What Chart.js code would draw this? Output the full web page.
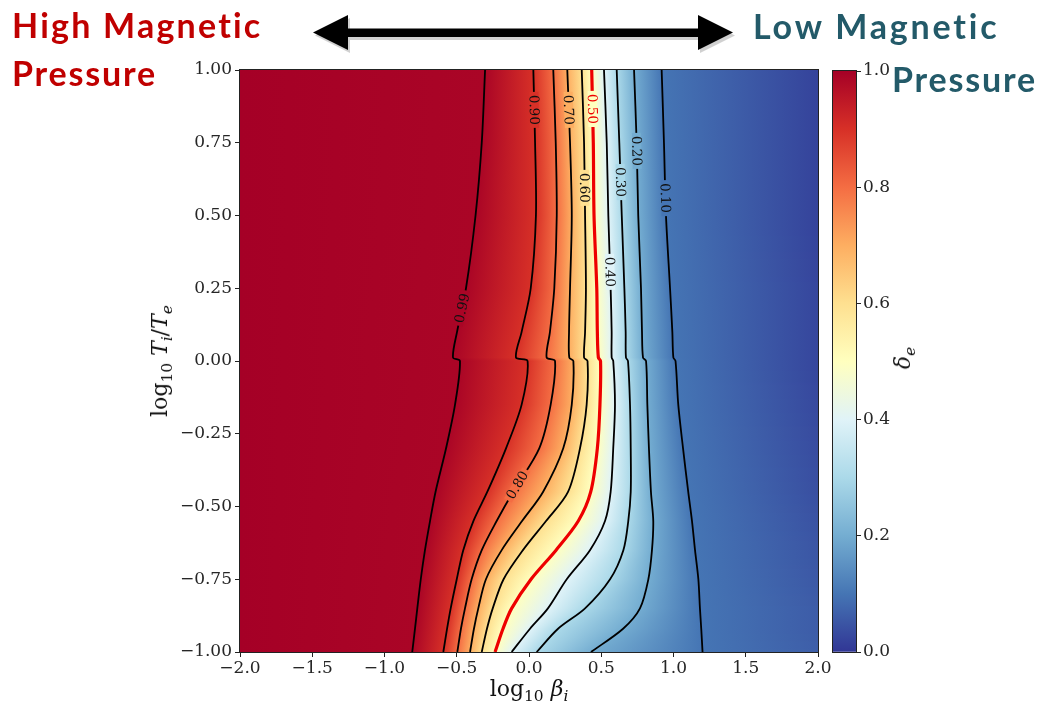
<!DOCTYPE html>
<html>
<head>
<meta charset="utf-8">
<script src="https://cdn.jsdelivr.net/npm/chart.js@4.4.1/dist/chart.umd.min.js"></script>
<style>
html,body{margin:0;padding:0;background:#fff;}
#wrap{position:relative;width:1051px;height:706px;overflow:hidden;background:#fff;}
canvas{position:absolute;top:0;}
#main{left:0;}
#cbar{left:800px;}
.ann{position:absolute;font-family:Lato,'Open Sans',sans-serif;font-weight:700;font-size:34px;line-height:34px;white-space:nowrap;}
.red{color:#c00000;}
.teal{color:#235a69;}
.ttl{position:absolute;font-family:'DejaVu Serif',serif;font-size:22px;line-height:22px;white-space:nowrap;color:#111;transform:translate(-50%,-50%);}
.rot{transform:translate(-50%,-50%) rotate(-90deg);}
.ttl sub{font-size:70%;vertical-align:-0.3em;line-height:0;}
#arrow{position:absolute;left:0;top:0;}
</style>
</head>
<body>
<div id="wrap">
  <canvas id="main" width="1051" height="706"></canvas>
  <canvas id="cbar" width="130" height="706"></canvas>
  <svg id="arrow" width="1051" height="80">
    <polygon points="313,32.5 348,15 348,28.5 698,28.5 698,15 733,32.5 698,50 698,37 348,37 348,50" fill="#777" opacity="0.35" transform="translate(2,3)"/>
    <polygon points="313,32.5 348,15 348,28.5 698,28.5 698,15 733,32.5 698,50 698,37 348,37 348,50" fill="#000"/>
  </svg>
  <div class="ann red fit" data-w="251" style="left:12px;top:8px;">High Magnetic</div>
  <div class="ann red fit" data-w="145" style="left:12px;top:56px;">Pressure</div>
  <div class="ann teal fit" data-w="247" style="left:753px;top:9px;">Low Magnetic</div>
  <div class="ann teal fit" data-w="145" style="left:892px;top:62px;">Pressure</div>
  <div class="ttl" style="left:529px;top:689px;">log<sub>10</sub> <i>β<sub>i</sub></i></div>
  <div class="ttl rot" style="left:160px;top:361px;">log<sub>10</sub> <i>T<sub>i</sub></i>/<i>T<sub>e</sub></i></div>
  <div class="ttl rot" style="left:903px;top:358px;"><i>δ<sub>e</sub></i></div>
</div>
<script>
// ---------------- data ----------------
// y positions (log10 Ti/Te) at which each contour's x position (log10 beta_i) was read
const Y_SAMPLES = [1.0, 0.75, 0.5, 0.25, 0.1, 0.012, 0.0, -0.15, -0.3, -0.45, -0.55, -0.65, -0.75, -0.85, -0.92, -1.0];
const LEVELS = [0.99, 0.90, 0.80, 0.70, 0.60, 0.50, 0.40, 0.30, 0.20, 0.10];
const C099 = [-0.304,-0.327,-0.370,-0.436,-0.498,-0.526,-0.478,-0.512,-0.574,-0.647,-0.685,-0.720,-0.749,-0.773,-0.789,-0.808];
const C090 = [0.030,0.042,0.048,0.012,-0.051,-0.090,-0.010,-0.051,-0.159,-0.289,-0.385,-0.455,-0.500,-0.542,-0.567,-0.593];
const C080 = [0.168,0.185,0.192,0.175,0.145,0.122,0.180,0.150,0.071,-0.111,-0.224,-0.327,-0.397,-0.443,-0.471,-0.496];
const C070 = [0.265,0.284,0.296,0.284,0.277,0.279,0.307,0.296,0.237,0.097,-0.048,-0.189,-0.298,-0.351,-0.381,-0.408];
const C060 = [0.365,0.381,0.388,0.394,0.388,0.381,0.405,0.399,0.353,0.270,0.118,-0.042,-0.176,-0.251,-0.291,-0.327];
const C050 = [0.434,0.445,0.450,0.469,0.473,0.480,0.495,0.491,0.473,0.427,0.341,0.187,0.014,-0.120,-0.180,-0.235];
const C040 = [0.519,0.538,0.549,0.565,0.572,0.572,0.583,0.595,0.583,0.565,0.526,0.422,0.261,0.131,0.007,-0.120];
const C030 = [0.607,0.625,0.642,0.660,0.669,0.671,0.685,0.699,0.704,0.704,0.687,0.653,0.561,0.388,0.201,0.053];
const C020 = [0.727,0.745,0.756,0.775,0.782,0.789,0.810,0.819,0.830,0.844,0.860,0.851,0.826,0.768,0.651,0.429];
const C010 = [0.918,0.934,0.948,0.976,0.992,0.999,1.014,1.033,1.066,1.102,1.128,1.149,1.172,1.183,1.192,1.201];
const CONTOURS = [C099, C090, C080, C070, C060, C050, C040, C030, C020, C010];
// delta_e at the left edge (x=-2) and right edge (x=2) of the map, per Y sample
const LEFT_EDGE_V = 1.0;
const RIGHT_EDGE_V = [0.02,0.02,0.02,0.025,0.025,0.025,0.025,0.03,0.035,0.04,0.045,0.05,0.055,0.06,0.06,0.065];
// inline contour labels
const LABEL_LEVEL = [0.90, 0.70, 0.50, 0.60, 0.20, 0.30, 0.10, 0.40, 0.99, 0.80];
const LABEL_Y     = [0.863, 0.863, 0.866, 0.595, 0.722, 0.615, 0.560, 0.306, 0.182, -0.426];
// axis ticks
const X_TICKS = [-2.0, -1.5, -1.0, -0.5, 0.0, 0.5, 1.0, 1.5, 2.0];
const Y_TICKS = [-1.0, -0.75, -0.5, -0.25, 0.0, 0.25, 0.5, 0.75, 1.0];
const CB_TICKS = [0.0, 0.2, 0.4, 0.6, 0.8, 1.0];
// RdYlBu_r colormap anchors (value 0 -> 1)
const CMAP = ['#313695','#4575b4','#74add1','#abd9e9','#e0f3f8','#ffffbf','#fee090','#fdae61','#f46d43','#d73027','#a50026'];
const RED = '#ee0000';

// ---------------- helpers ----------------
const CM_RGB = CMAP.map(h => [1,3,5].map(i => parseInt(h.substr(i,2),16)));
function cmap(v){
  v = Math.max(0, Math.min(1, v));
  const f = v*10, i = Math.min(9, Math.floor(f)), t = f - i;
  const a = CM_RGB[i], b = CM_RGB[i+1];
  return 'rgb(' + a.map((c,k)=>Math.round(c + (b[k]-c)*t)).join(',') + ')';
}
const fmt = (v,d) => (v < -1e-9 ? '\u2212' : '') + Math.abs(v).toFixed(d);
function interpAt(arr, yv){
  const Y = Y_SAMPLES;
  if (yv >= Y[0]) return arr[0];
  for (let j=0;j<Y.length-1;j++){
    if (yv <= Y[j] && yv >= Y[j+1]){
      const t = (Y[j]-yv)/(Y[j]-Y[j+1]);
      return arr[j] + t*(arr[j+1]-arr[j]);
    }
  }
  return arr[arr.length-1];
}
function fixedTicks(list){
  return function(scale){ scale.ticks = list.map(v => ({value:v})); };
}

// ---------------- plugins ----------------
const heatmap = {
  id:'heatmap',
  beforeDatasetsDraw(chart){
    const {ctx, chartArea:a, scales:{x, y}} = chart;
    const x0 = x.getPixelForValue(-2), x1 = x.getPixelForValue(2);
    ctx.save();
    for (let py = Math.floor(a.top); py < Math.ceil(a.bottom); py++){
      const yv = y.getValueForPixel(py + 0.5);
      const g = ctx.createLinearGradient(x0, 0, x1, 0);
      const stops = [[-2, LEFT_EDGE_V]];
      CONTOURS.forEach((c,i) => stops.push([interpAt(c, yv), LEVELS[i]]));
      stops.push([2, interpAt(RIGHT_EDGE_V, yv)]);
      stops.forEach(([xv, v]) => {
        const off = (x.getPixelForValue(xv) - x0)/(x1 - x0);
        g.addColorStop(Math.max(0, Math.min(1, off)), cmap(v));
      });
      ctx.fillStyle = g;
      ctx.fillRect(a.left, py, a.right - a.left, 1);
    }
    ctx.restore();
  },
  afterDatasetsDraw(chart){
    const {ctx, scales:{x, y}} = chart;
    ctx.save();
    ctx.font = '13.5px "DejaVu Serif"';
    ctx.textAlign = 'center';
    ctx.textBaseline = 'middle';
    LABEL_LEVEL.forEach((lv, i) => {
      const c = CONTOURS[LEVELS.indexOf(lv)];
      const yv = LABEL_Y[i];
      const px = x.getPixelForValue(interpAt(c, yv)), py = y.getPixelForValue(yv);
      const pa = [x.getPixelForValue(interpAt(c, yv+0.03)), y.getPixelForValue(yv+0.03)];
      const pb = [x.getPixelForValue(interpAt(c, yv-0.03)), y.getPixelForValue(yv-0.03)];
      let ang = Math.atan2(pb[1]-pa[1], pb[0]-pa[0]);
      if (ang > Math.PI/2) ang -= Math.PI;
      if (ang <= -Math.PI/2) ang += Math.PI;
      const txt = lv.toFixed(2);
      const w = ctx.measureText(txt).width;
      ctx.save();
      ctx.translate(px, py);
      ctx.rotate(ang);
      ctx.fillStyle = cmap(lv);
      ctx.fillRect(-w/2 - 3, -4.5, w + 6, 9);
      ctx.fillStyle = lv === 0.5 ? RED : '#111';
      ctx.fillText(txt, 0, 1);
      ctx.restore();
    });
    ctx.restore();
  },
  afterDraw(chart){
    const {ctx, chartArea:a} = chart;
    ctx.save();
    ctx.strokeStyle = '#222';
    ctx.lineWidth = 1;
    ctx.strokeRect(a.left - 0.5, a.top - 0.5, a.right - a.left + 1, a.bottom - a.top + 1);
    ctx.restore();
  }
};

// ---------------- main chart ----------------
const tickFont = {family:'DejaVu Serif', size:17};
const datasets = LEVELS.map((lv, i) => ({
  label: lv.toFixed(2),
  data: Y_SAMPLES.map((yv, j) => ({x: CONTOURS[i][j], y: yv})),
  showLine: true,
  borderColor: lv === 0.5 ? RED : '#000',
  borderWidth: lv === 0.5 ? 3.2 : 1.8,
  pointRadius: 0,
  tension: 0.3,
  fill: false
}));

new Chart(document.getElementById('main'), {
  type: 'scatter',
  data: {datasets},
  options: {
    responsive: false,
    animation: false,
    events: [],
    layout: {padding: {left: 140, top: 70, right: 233, bottom: 0}},
    plugins: {legend: {display: false}, tooltip: {enabled: false}},
    scales: {
      x: {
        type: 'linear', min: -2, max: 2,
        afterBuildTicks: fixedTicks(X_TICKS),
        ticks: {callback: v => fmt(v, 1), font: tickFont, color: '#262626', padding: 1, maxRotation: 0, autoSkip: false},
        grid: {drawOnChartArea: false, tickLength: 5, tickColor: '#222', tickWidth: 1},
        border: {display: false},
        afterFit(s){ s.height = 54; }
      },
      y: {
        type: 'linear', min: -1, max: 1,
        afterBuildTicks: fixedTicks(Y_TICKS),
        ticks: {callback: v => fmt(v, 2), font: tickFont, color: '#262626', padding: 3, autoSkip: false},
        grid: {drawOnChartArea: false, tickLength: 5, tickColor: '#222', tickWidth: 1},
        border: {display: false},
        afterFit(s){ s.width = 100; }
      }
    }
  },
  plugins: [heatmap]
});

// ---------------- colorbar ----------------
const cbFrame = {
  id:'cbFrame',
  afterDraw(chart){
    const {ctx, chartArea:a} = chart;
    ctx.save();
    ctx.strokeStyle = '#222';
    ctx.lineWidth = 1;
    ctx.strokeRect(a.left - 0.5, a.top - 0.5, a.right - a.left + 1, a.bottom - a.top + 1);
    ctx.restore();
  }
};
new Chart(document.getElementById('cbar'), {
  type: 'bar',
  data: {
    labels: ['δe'],
    datasets: [{
      data: [1],
      borderWidth: 0,
      barPercentage: 1,
      categoryPercentage: 1,
      backgroundColor(c){
        const ch = c.chart, s = ch.scales.y;
        if (!ch.chartArea || !s) return CMAP[5];
        const g = ch.ctx.createLinearGradient(0, s.getPixelForValue(0), 0, s.getPixelForValue(1));
        CMAP.forEach((col, i) => g.addColorStop(i/10, col));
        return g;
      }
    }]
  },
  options: {
    responsive: false,
    animation: false,
    events: [],
    layout: {padding: {left: 33, top: 71, right: 34, bottom: 54}},
    plugins: {legend: {display: false}, tooltip: {enabled: false}},
    scales: {
      x: {display: false},
      y: {
        position: 'right', min: 0, max: 1,
        afterBuildTicks: fixedTicks(CB_TICKS),
        ticks: {callback: v => v.toFixed(1), font: tickFont, color: '#262626', padding: 2},
        grid: {drawOnChartArea: false, tickLength: 5, tickColor: '#222'},
        border: {display: false},
        afterFit(s){ s.width = 40; }
      }
    }
  },
  plugins: [cbFrame]
});

// fit the annotation texts to the widths measured on the reference
document.querySelectorAll('.fit').forEach(el => {
  const target = +el.dataset.w;
  const w = el.getBoundingClientRect().width;
  const n = el.textContent.length;
  el.style.letterSpacing = ((target - w) / n).toFixed(2) + 'px';
});
</script>
</body>
</html>
